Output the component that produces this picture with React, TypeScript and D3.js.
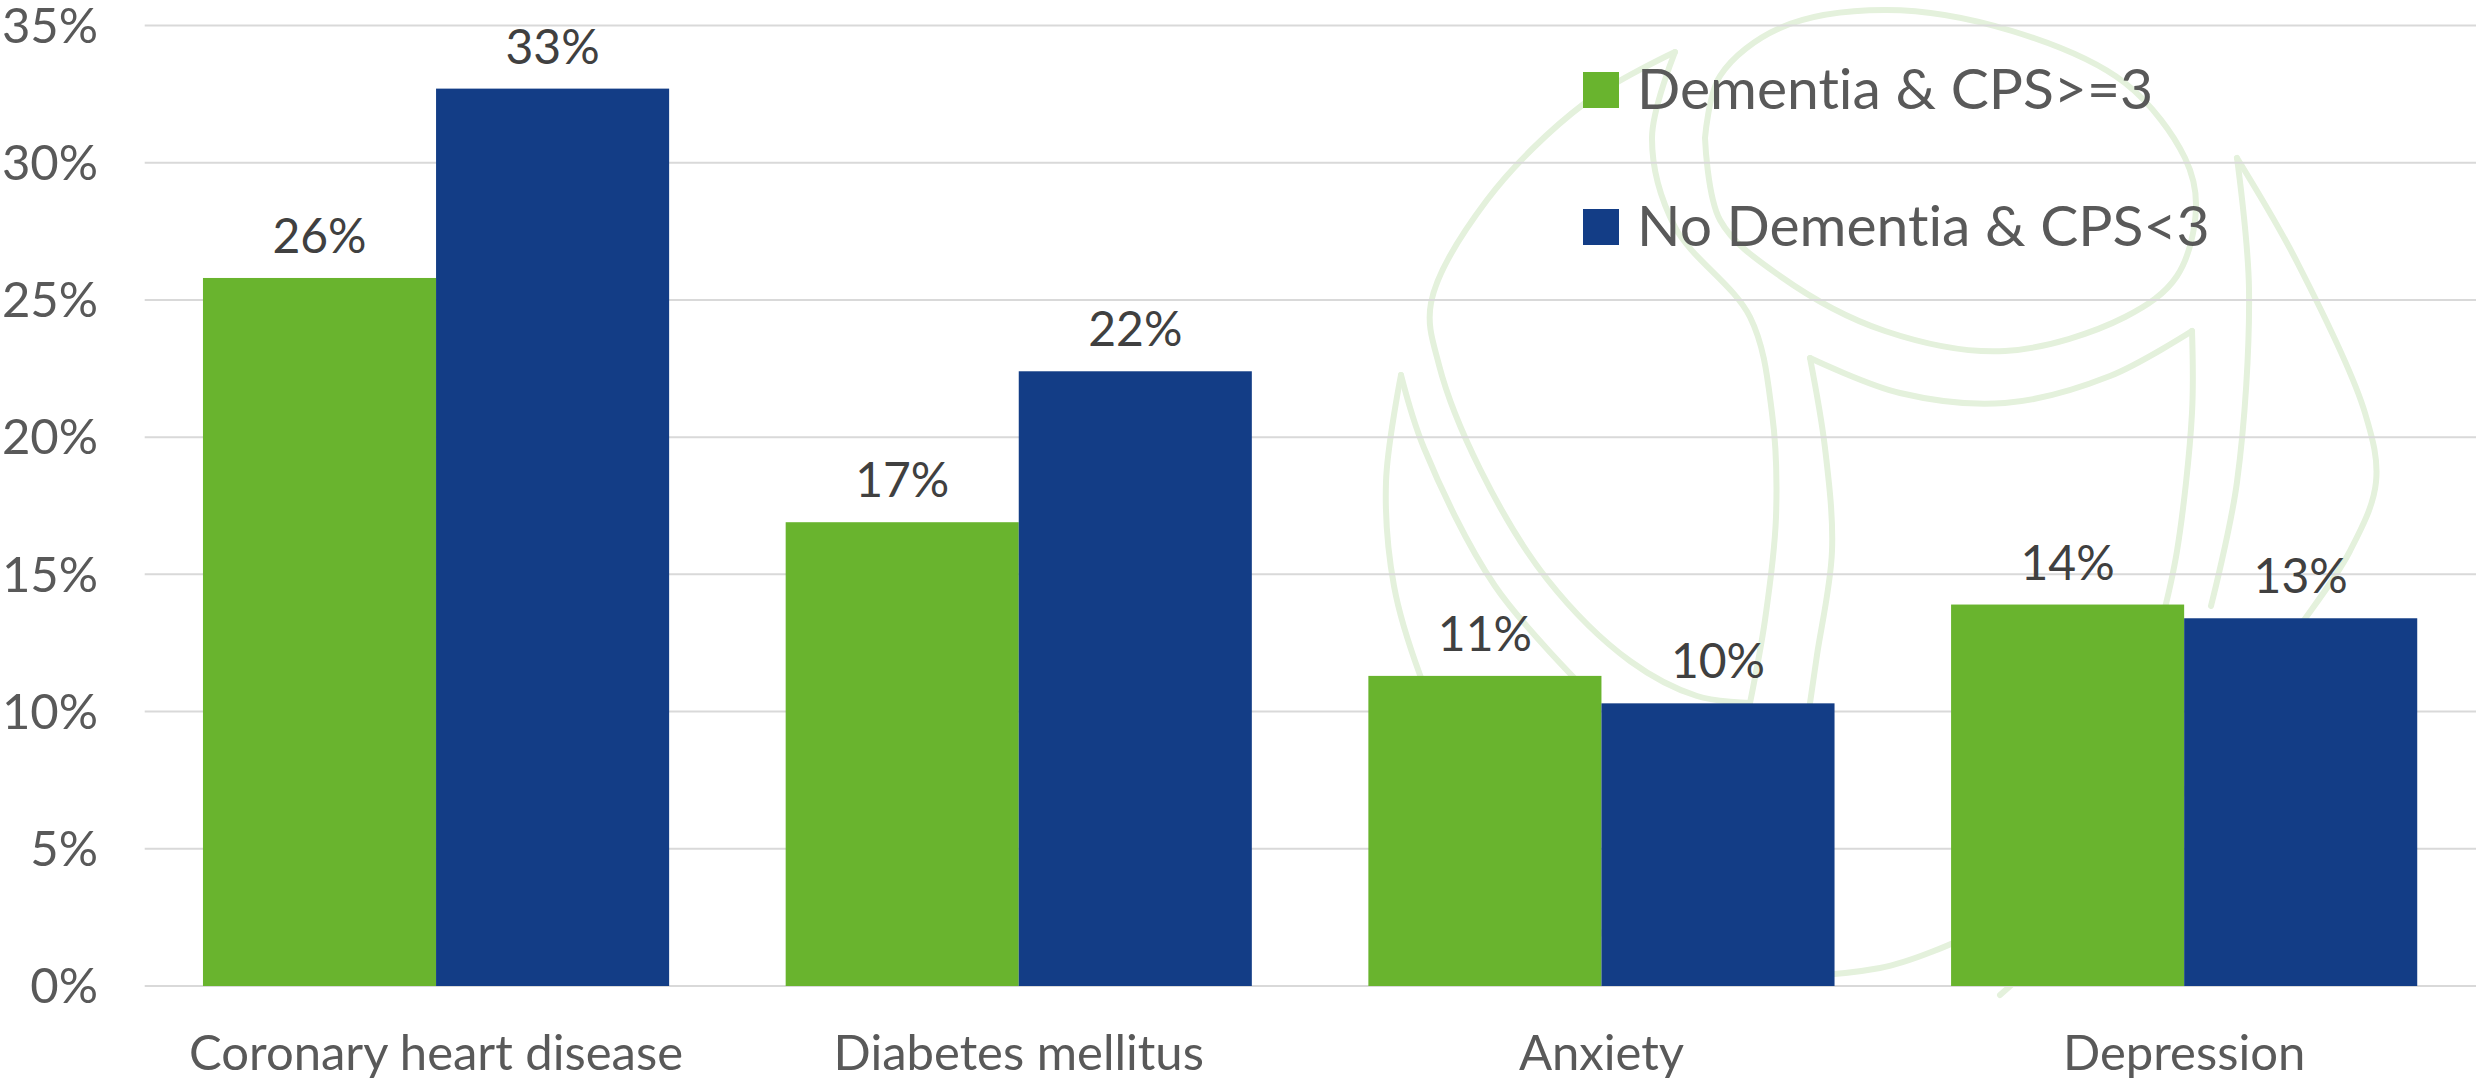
import React from "react";
import * as d3 from "d3";

// ---- data ----
const categories = ["Coronary heart disease", "Diabetes mellitus", "Anxiety", "Depression"];
const seriesNames = ["Dementia & CPS>=3", "No Dementia & CPS<3"];
const dementiaValues = [25.8, 16.9, 11.3, 13.9];
const noDementiaValues = [32.7, 22.4, 10.3, 13.4];
const yTicks = [0, 5, 10, 15, 20, 25, 30, 35];

// ---- look ----
const W = 2476;
const H = 1081;
const COLORS = ["#69b42e", "#133d86"];
const FONT = "Lato, 'Open Sans', sans-serif";
const TEXT_STYLE = { fontVariantLigatures: "none", fontFeatureSettings: "'liga' 0, 'clig' 0" } as React.CSSProperties;

// faint background logo, drawn as smooth outline strokes
const logoStrokes: [number, number][][] = [
  // head loop
  [[1705, 138], [1720, 76], [1780, 28], [1885, 10], [2012, 31], [2125, 83], [2185, 158], [2196, 207], [2177, 276], [2125, 317], [2005, 351], [1885, 331], [1780, 276], [1720, 220], [1705, 138]],
  // left leaf outer edge
  [[1675, 52], [1585, 103], [1487, 200], [1431, 303], [1439, 365], [1480, 469], [1547, 579], [1630, 661], [1697, 696], [1750, 703]],
  // left leaf inner edge
  [[1675, 52], [1652, 138], [1675, 227], [1750, 317], [1772, 413], [1776, 517], [1765, 620], [1750, 703]],
  // neck line
  [[1810, 358], [1825, 448], [1832, 551], [1817, 655], [1810, 703]],
  // chin arc
  [[1810, 358], [1900, 393], [2005, 403], [2110, 376], [2192, 331]],
  // right neck line
  [[2192, 331], [2192, 413], [2177, 551], [2162, 620]],
  // right leaf, inner side
  [[2237, 158], [2249, 289], [2237, 482], [2211, 606]],
  // right leaf, outer side down to the base
  [[2237, 158], [2297, 262], [2365, 413], [2376, 482], [2350, 551], [2290, 640], [2200, 770], [2100, 900], [2000, 995]],
  // far left leaf, outer side and base arc
  [[1401, 375], [1386, 482], [1394, 586], [1420, 675], [1480, 810], [1580, 920], [1720, 972], [1880, 968], [1960, 940]],
  // far left leaf, inner side
  [[1401, 375], [1424, 448], [1495, 586], [1585, 689]],
];

export default function App() {
  const margin = { left: 144.7, right: 0.5 };
  const y = d3.scaleLinear().domain([0, 35]).range([986, 25.5]);
  const x0 = d3
    .scaleBand<string>()
    .domain(categories)
    .range([margin.left, W - margin.right])
    .paddingInner(0.2)
    .paddingOuter(0.1);
  const x1 = d3.scaleBand<number>().domain([0, 1]).range([0, x0.bandwidth()]).padding(0);

  const series = [dementiaValues, noDementiaValues];
  const line = d3
    .line<[number, number]>()
    .x((d) => d[0])
    .y((d) => d[1])
    .curve(d3.curveCatmullRom.alpha(0.5));

  const legendX = 1583;
  const legendY = [90, 227];

  return (
    <svg
      width={W}
      height={H}
      viewBox={`0 0 ${W} ${H}`}
      style={{ position: "fixed", left: 0, top: 0, display: "block", background: "#ffffff" }}
    >
      <rect x={0} y={0} width={W} height={H} fill="#ffffff" />

      {/* background logo */}
      <g fill="none" stroke="#e4f1dc" strokeWidth={6} strokeLinecap="round" strokeLinejoin="round">
        {logoStrokes.map((pts, i) => (
          <path key={i} d={line(pts) || ""} />
        ))}
      </g>

      {/* gridlines */}
      <g>
        {yTicks.map((t) => (
          <line
            key={t}
            x1={margin.left}
            x2={W}
            y1={y(t)}
            y2={y(t)}
            stroke="#d9d9d9"
            strokeWidth={2}
          />
        ))}
      </g>

      {/* y-axis tick labels */}
      <g fontFamily={FONT} fontSize={49} fill="#595959" textAnchor="end" style={TEXT_STYLE}>
        {yTicks.map((t) => (
          <text key={t} x={98} y={y(t)} dy="0.35em">
            {`${t}%`}
          </text>
        ))}
      </g>

      {/* bars */}
      {categories.map((c, ci) => (
        <g key={c} transform={`translate(${x0(c)},0)`}>
          {series.map((vals, si) => (
            <rect
              key={si}
              x={x1(si)}
              y={y(vals[ci])}
              width={x1.bandwidth()}
              height={y(0) - y(vals[ci])}
              fill={COLORS[si]}
            />
          ))}
        </g>
      ))}

      {/* data labels */}
      <g fontFamily={FONT} fontSize={48} fill="#404040" textAnchor="middle" style={TEXT_STYLE}>
        {categories.map((c, ci) =>
          series.map((vals, si) => (
            <text
              key={`${c}-${si}`}
              x={(x0(c) as number) + (x1(si) as number) + x1.bandwidth() / 2}
              y={y(vals[ci]) - 25}
            >
              {`${Math.round(vals[ci])}%`}
            </text>
          ))
        )}
      </g>

      {/* category labels */}
      <g fontFamily={FONT} fontSize={49} fill="#595959" textAnchor="middle" style={TEXT_STYLE}>
        {categories.map((c) => (
          <text key={c} x={(x0(c) as number) + x0.bandwidth() / 2} y={1070}>
            {c}
          </text>
        ))}
      </g>

      {/* legend */}
      <g fontFamily={FONT} fontSize={57} fill="#595959" style={TEXT_STYLE}>
        {seriesNames.map((name, i) => (
          <g key={name} transform={`translate(${legendX},${legendY[i]})`}>
            <rect x={0} y={-18} width={36} height={36} fill={COLORS[i]} />
            <text x={54} y={19}>
              {name}
            </text>
          </g>
        ))}
      </g>
    </svg>
  );
}
